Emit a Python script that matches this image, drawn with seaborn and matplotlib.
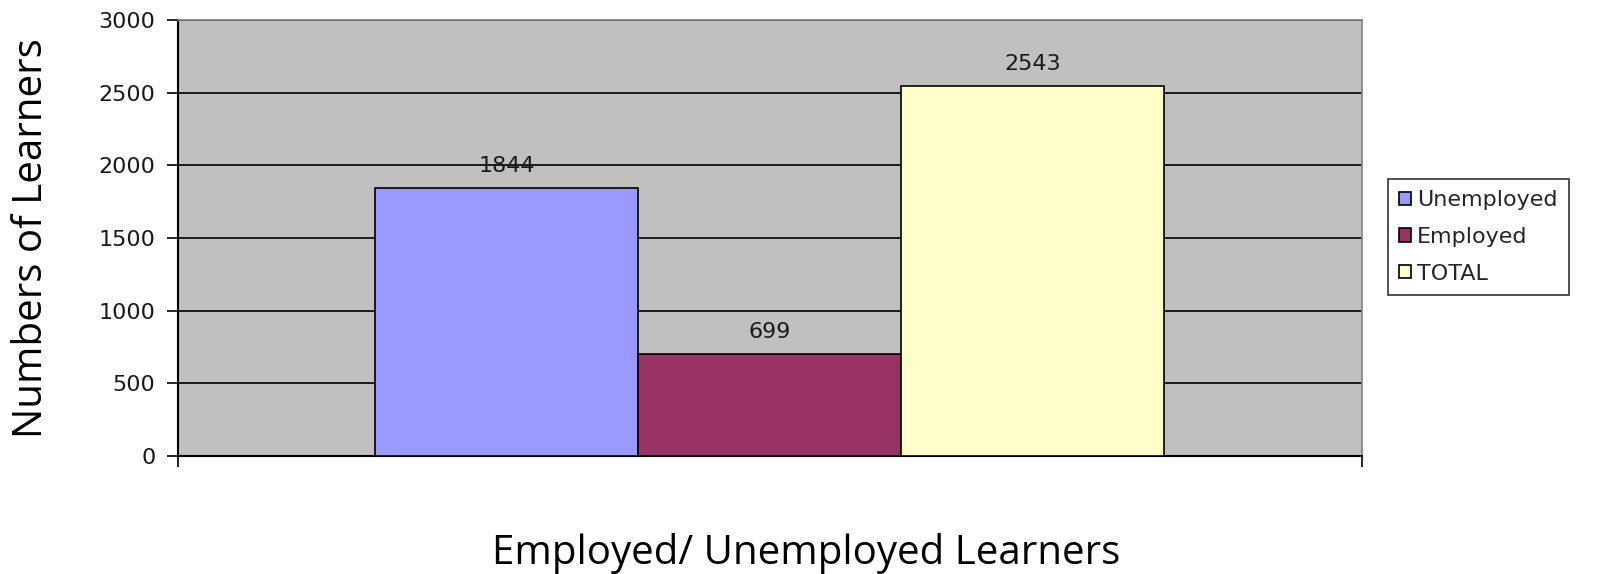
import pandas as pd
import matplotlib.pyplot as plt
import seaborn as sns

# --- Data ---
series = ["Unemployed", "Employed", "TOTAL"]
learners = [1844, 699, 2543]
colors = ["#9999FF", "#993366", "#FFFFCC"]

df = pd.DataFrame({"group": ["Learners"] * 3, "series": series, "count": learners})

# --- Style ---
sns.set_style("white")
plt.rcParams["font.family"] = ["DejaVu Sans"]

fig = plt.figure(figsize=(16, 5.74), dpi=100)
ax = fig.add_axes([0.111, 0.2056, 0.74, 0.7594])
ax.set_facecolor("#C0C0C0")

sns.barplot(data=df, x="group", y="count", hue="series", hue_order=series,
            palette=colors, width=0.666, gap=0, edgecolor="black", linewidth=1.2,
            saturation=1, ax=ax, zorder=3)

for c in ax.containers:
    ax.bar_label(c, fontsize=16, padding=9, color="#1a1a1a")

ax.set_xlim(-0.5, 0.5)
ax.set_ylim(0, 3000)
ax.set_yticks(range(0, 3001, 500))
ax.yaxis.grid(True, color="black", linewidth=1.2, zorder=0)
ax.set_axisbelow(True)
ax.tick_params(axis="y", labelsize=16, length=8, width=1.2, color="black",
               left=True, pad=8, labelcolor="#1a1a1a")
ax.set_xticks([-0.5, 0.5])
ax.set_xticklabels(["", ""])
ax.tick_params(axis="x", length=8, width=1.2, color="black", bottom=True)

for s in ["left", "bottom"]:
    ax.spines[s].set_color("black")
    ax.spines[s].set_linewidth(1.5)
for s in ["top", "right"]:
    ax.spines[s].set_color("#808080")
    ax.spines[s].set_linewidth(1.2)

ax.set_xlabel("")
ax.set_ylabel("")
fig.text(0.02, 0.585, "Numbers of Learners", rotation=90, ha="center", va="center",
         fontsize=29, family=["Open Sans", "DejaVu Sans"], color="black")
fig.text(0.504, 0.036, "Employed/ Unemployed Learners", ha="center", va="center",
         fontsize=29, family=["Open Sans", "DejaVu Sans"], color="black")

leg = ax.legend(loc="upper left", bbox_to_anchor=(0.8675, 0.688),
                bbox_transform=fig.transFigure, fontsize=16, frameon=True,
                fancybox=False, edgecolor="black", handlelength=0.55, handleheight=0.55,
                handletextpad=0.25, borderpad=0.5, borderaxespad=0, labelspacing=0.75)
leg.get_frame().set_linewidth(1.2)
for h in leg.legend_handles:
    h.set_edgecolor("black")

fig.savefig("out.png", dpi=100)
